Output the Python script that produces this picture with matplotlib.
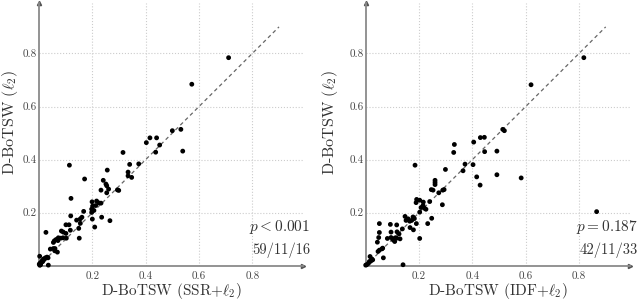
import matplotlib
matplotlib.use("Agg")
import matplotlib.pyplot as plt

plt.rcParams['font.family'] = 'serif'
plt.rcParams['font.serif'] = ['cmr10', 'DejaVu Serif']
plt.rcParams['mathtext.fontset'] = 'cm'
plt.rcParams['axes.formatter.use_mathtext'] = True

# ---- data: left panel (x = D-BoTSW (SSR+l2), y = D-BoTSW (l2)) ----
x_left = [0.711, 0.573, 0.500, 0.532, 0.539, 0.4025, 0.416, 0.441, 0.4525, 0.4375,
          0.315, 0.374, 0.340, 0.334, 0.334, 0.3475, 0.256, 0.114, 0.171, 0.120,
          0.241, 0.251, 0.254, 0.2325, 0.261, 0.254, 0.294, 0.299, 0.199, 0.216,
          0.224, 0.2325, 0.201, 0.2125, 0.1975, 0.206, 0.1975, 0.1675, 0.161, 0.155,
          0.119, 0.235, 0.200, 0.266, 0.141, 0.155, 0.149, 0.209, 0.1175, 0.101,
          0.1125, 0.151, 0.084, 0.091, 0.101, 0.026, 0.0725, 0.081, 0.090, 0.1025,
          0.064, 0.0575, 0.054, 0.071, 0.0425, 0.054, 0.060, 0.069, 0.059, 0.030,
          0.024, 0.0175, 0.034, 0.0125, 0.009, 0.004, 0.001, 0.0025, 0.035, 0.006,
          0.014, 0.020, 0.008, 0.003]
y_left = [0.784, 0.684, 0.509, 0.514, 0.432, 0.464, 0.482, 0.482, 0.455, 0.428,
          0.427, 0.384, 0.382, 0.353, 0.339, 0.333, 0.3605, 0.379, 0.327, 0.254,
          0.322, 0.308, 0.3015, 0.285, 0.289, 0.275, 0.286, 0.284, 0.241, 0.244,
          0.237, 0.236, 0.225, 0.227, 0.2135, 0.2085, 0.201, 0.205, 0.183, 0.177,
          0.188, 0.183, 0.176, 0.170, 0.172, 0.160, 0.141, 0.146, 0.134, 0.1545,
          0.1545, 0.104, 0.131, 0.127, 0.122, 0.126, 0.1055, 0.104, 0.1055, 0.104,
          0.099, 0.094, 0.088, 0.095, 0.063, 0.065, 0.065, 0.0515, 0.0565, 0.0327,
          0.030, 0.026, 0.030, 0.020, 0.014, 0.010, 0.006, 0.036, 0.0025, 0.004,
          0.016, 0.024, 0.012, 0.002]

# ---- data: right panel (x = D-BoTSW (IDF+l2), y = D-BoTSW (l2)) ----
x_right = [0.818, 0.620, 0.866, 0.514, 0.520, 0.3325, 0.330, 0.405, 0.430, 0.445,
           0.446, 0.492, 0.3725, 0.365, 0.4025, 0.41625, 0.429, 0.492, 0.583, 0.299,
           0.185, 0.260, 0.260, 0.260, 0.246, 0.2525, 0.274, 0.289, 0.294, 0.2875,
           0.191, 0.2025, 0.189, 0.216, 0.240, 0.215, 0.220, 0.226, 0.2075, 0.2025,
           0.2475, 0.2325, 0.2025, 0.1475, 0.159, 0.1775, 0.1825, 0.165, 0.1725, 0.16625,
           0.179, 0.190, 0.15125, 0.0925, 0.11625, 0.1375, 0.05125, 0.095, 0.1175, 0.125,
           0.110, 0.11625, 0.12875, 0.1025, 0.095, 0.10875, 0.08125, 0.05125, 0.04875, 0.04375,
           0.06125, 0.06375, 0.05125, 0.04625, 0.06625, 0.01625, 0.0225, 0.02625, 0.01375, 0.01875,
           0.010, 0.00375, 0.000, 0.140]
y_right = [0.784, 0.682, 0.204, 0.514, 0.509, 0.457, 0.427, 0.466, 0.483, 0.484,
           0.430, 0.432, 0.383, 0.358, 0.381, 0.335, 0.304, 0.343, 0.331, 0.363,
           0.379, 0.322, 0.314, 0.306, 0.287, 0.285, 0.275, 0.285, 0.287, 0.230,
           0.250, 0.247, 0.238, 0.240, 0.242, 0.227, 0.217, 0.213, 0.2195, 0.202,
           0.179, 0.159, 0.103, 0.186, 0.177, 0.184, 0.178, 0.168, 0.171, 0.144,
           0.1355, 0.159, 0.171, 0.156, 0.154, 0.139, 0.159, 0.127, 0.128, 0.120,
           0.105, 0.104, 0.1015, 0.098, 0.1065, 0.0915, 0.103, 0.1255, 0.1065, 0.089,
           0.064, 0.0665, 0.059, 0.054, 0.030, 0.035, 0.026, 0.0225, 0.016, 0.0175,
           0.009, 0.004, 0.0025, 0.004]

ticks = [0.2, 0.4, 0.6, 0.8]
tick_labels = ['0.2', '0.4', '0.6', '0.8']
x_labels = [r'D-BoTSW (SSR+$\ell_2$)', r'D-BoTSW (IDF+$\ell_2$)']
y_label = r'D-BoTSW ($\ell_2$)'
p_texts = [r'$p < 0.001$', r'$p = 0.187$']
count_texts = ['59/11/16', '42/11/33']

fig = plt.figure(figsize=(6.4, 3.0), dpi=100)
W, H = 640.0, 300.0
# axes rectangles in pixels: left, bottom-from-top, width, height
rects = [(39.0, 265.8, 264.0, 262.8), (365.7, 265.8, 264.0, 262.8)]
ylab_x = [-0.11, -0.135]
ptext_x = [1.027, 1.031]

data = [(x_left, y_left), (x_right, y_right)]
for i, (xs, ys) in enumerate(data):
    l, b, w, h = rects[i]
    ax = fig.add_axes([l / W, (H - b) / H, w / W, h / H])
    ax.set_xlim(0, 0.99)
    ax.set_ylim(0, 0.99)
    for s in ['top', 'right']:
        ax.spines[s].set_visible(False)
    for s in ['left', 'bottom']:
        ax.spines[s].set_color('#8a8a8a')
        ax.spines[s].set_linewidth(1.3)
    ax.set_xticks(ticks)
    ax.set_xticklabels(tick_labels)
    ax.set_yticks(ticks)
    ax.set_yticklabels(tick_labels)
    ax.tick_params(length=0, labelsize=8, colors='#444444')
    ax.tick_params(axis='x', pad=4)
    ax.tick_params(axis='y', pad=1.5)
    ax.grid(True, linestyle=':', color='#cccccc', linewidth=0.8)
    ax.set_axisbelow(True)
    # arrowheads
    ax.plot(1, 0, '>', color='#555555', markersize=3, transform=ax.transAxes, clip_on=False)
    ax.plot(0, 1, '^', color='#555555', markersize=3, transform=ax.transAxes, clip_on=False)
    ax.plot([0, 0.9], [0, 0.9], linestyle=(0, (3, 2.5)), color='#666666', linewidth=0.9, zorder=2)
    ax.scatter(xs, ys, s=12, color='black', edgecolors='none', zorder=3, clip_on=False)
    ax.text(0.5, -0.095, x_labels[i], transform=ax.transAxes, ha='center', va='center',
            fontsize=11, color='#333333')
    ax.text(ylab_x[i], 0.545, y_label, transform=ax.transAxes, ha='center', va='center',
            rotation=90, fontsize=11.5, color='#333333')
    ax.text(ptext_x[i], 0.148, p_texts[i], transform=ax.transAxes, ha='right', va='center',
            fontsize=11, color='#333333')
    ax.text(ptext_x[i], 0.060, count_texts[i], transform=ax.transAxes, ha='right', va='center',
            fontsize=10.5, color='#333333')

fig.savefig('out.png', dpi=100)
